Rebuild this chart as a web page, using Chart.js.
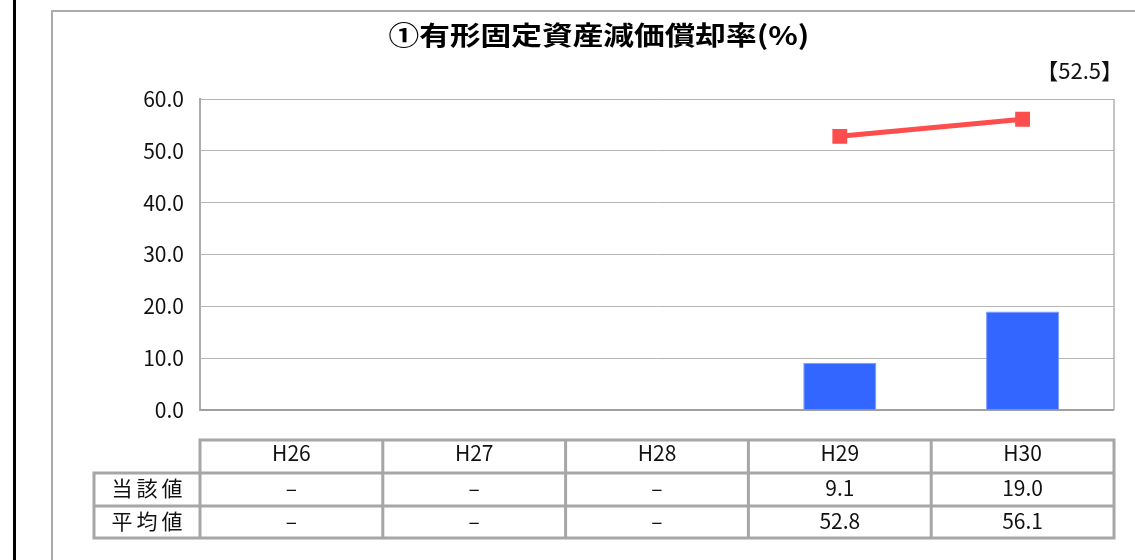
<!DOCTYPE html>
<html lang="ja">
<head>
<meta charset="utf-8">
<title>有形固定資産減価償却率</title>
<script src="https://cdn.jsdelivr.net/npm/chart.js@4.4.1/dist/chart.umd.min.js"></script>
<style>
    html, body {
        margin: 0;
        padding: 0;
        background: #fff;
        width: 1135px;
        height: 560px;
        overflow: hidden;
        font-family: "Noto Sans CJK JP", sans-serif;
        color: #111;
    }
    .barra-esq {
        position: absolute;
        left: 13px;
        top: 0;
        width: 3px;
        height: 560px;
        background: #000;
    }
    .moldura {
        position: absolute;
        left: 51px;
        top: 10px;
        width: 1200px;
        height: 700px;
        border: 2px solid #ababab;
    }
    .titulo {
        position: absolute;
        left: 599px;
        top: 33px;
        transform: translate(-50%, -50%) scaleX(1.18);
        font-size: 26px;
        font-weight: bold;
        white-space: nowrap;
        color: #000;
    }
    .referencia {
        position: absolute;
        right: 12px;
        top: 53px;
        font-size: 22px;
        color: #111;
    }
    #grafico {
        position: absolute;
        left: 0;
        top: 0;
    }
</style>
</head>
<body>
<div class="barra-esq"></div>
<div class="moldura"></div>
<canvas id="grafico" width="1135" height="560"></canvas>
<div class="titulo">①有形固定資産減価償却率(%)</div>
<div class="referencia">【52.5】</div>
<script>
    const anos = ['H26', 'H27', 'H28', 'H29', 'H30'];
    const valoresProprios = [null, null, null, 9.1, 19.0];
    const valoresMedia = [null, null, null, 52.8, 56.1];
    const rotulosLinhas = ['当該値', '平均値'];
    const eixoMin = 0;
    const eixoMax = 60;
    const eixoPasso = 10;

    const FONTE = '"Noto Sans CJK JP", sans-serif';

    function formatar(v) {
        return v === null ? '–' : v.toFixed(1);
    }

    // moldura da área de plotagem
    const molduraPlot = {
        id: 'molduraPlot',
        beforeDatasetsDraw(chart) {
            const { ctx, chartArea: a } = chart;
            ctx.save();
            ctx.strokeStyle = '#b0b0b0';
            ctx.lineWidth = 1.5;
            ctx.beginPath();
            ctx.moveTo(a.right, a.top);
            ctx.lineTo(a.right, a.bottom);
            ctx.stroke();
            ctx.strokeStyle = '#a0a0a0';
            ctx.lineWidth = 2;
            ctx.beginPath();
            ctx.moveTo(a.left, a.bottom);
            ctx.lineTo(a.right, a.bottom);
            ctx.stroke();
            ctx.restore();
        }
    };

    // tabela de dados sob o gráfico
    const tabelaDados = {
        id: 'tabelaDados',
        afterDraw(chart) {
            const { ctx, chartArea: a } = chart;
            const escalaX = chart.scales.x;
            const larguraCol = (a.right - a.left) / anos.length;
            const linhas = [440, 473, 506, 538];
            const esquerdaRotulo = 94;

            ctx.save();
            ctx.strokeStyle = '#a6a6a6';
            ctx.lineWidth = 3;
            ctx.lineCap = 'square';

            ctx.beginPath();
            ctx.moveTo(a.left, linhas[0]);
            ctx.lineTo(a.right, linhas[0]);
            for (let i = 1; i < linhas.length; i++) {
                ctx.moveTo(esquerdaRotulo, linhas[i]);
                ctx.lineTo(a.right, linhas[i]);
            }
            ctx.moveTo(esquerdaRotulo, linhas[1]);
            ctx.lineTo(esquerdaRotulo, linhas[3]);
            for (let i = 0; i <= anos.length; i++) {
                const x = a.left + larguraCol * i;
                ctx.moveTo(x, linhas[0]);
                ctx.lineTo(x, linhas[3]);
            }
            ctx.stroke();

            ctx.fillStyle = '#111';
            ctx.font = '21px ' + FONTE;
            ctx.textAlign = 'center';
            ctx.textBaseline = 'middle';

            const series = [valoresProprios, valoresMedia];
            anos.forEach(function (ano, i) {
                const cx = escalaX.getPixelForValue(i);
                ctx.fillText(ano, cx, 453);
                series.forEach(function (serie, r) {
                    ctx.fillText(formatar(serie[i]), cx, (linhas[r + 1] + linhas[r + 2]) / 2 - 1);
                });
            });

            ctx.letterSpacing = '4px';
            rotulosLinhas.forEach(function (rotulo, r) {
                ctx.fillText(rotulo, (esquerdaRotulo + a.left) / 2 + 2, (linhas[r + 1] + linhas[r + 2]) / 2 - 1);
            });
            ctx.restore();
        }
    };

    new Chart(document.getElementById('grafico'), {
        data: {
            labels: anos,
            datasets: [
                {
                    type: 'line',
                    label: '平均値',
                    data: valoresMedia,
                    borderColor: '#ff4d4d',
                    backgroundColor: '#ff4d4d',
                    borderWidth: 5,
                    pointStyle: 'rect',
                    pointRadius: 10.5,
                    pointBorderWidth: 0,
                    spanGaps: false,
                    order: 1
                },
                {
                    type: 'bar',
                    label: '当該値',
                    data: valoresProprios,
                    backgroundColor: '#3366ff',
                    borderColor: '#7b9cff',
                    borderWidth: 1,
                    categoryPercentage: 1,
                    barPercentage: 0.4,
                    order: 2
                }
            ]
        },
        options: {
            responsive: false,
            animation: false,
            layout: {
                padding: { left: 100, top: 99, right: 21, bottom: 150 }
            },
            plugins: {
                legend: { display: false },
                tooltip: { enabled: false },
                title: { display: false }
            },
            scales: {
                x: {
                    display: false,
                    offset: true
                },
                y: {
                    min: eixoMin,
                    max: eixoMax,
                    afterFit: function (escala) {
                        escala.width = 100;
                    },
                    ticks: {
                        stepSize: eixoPasso,
                        padding: 16,
                        color: '#111',
                        font: { family: FONTE, size: 21 },
                        callback: function (v) {
                            return Number(v).toFixed(1);
                        }
                    },
                    grid: {
                        color: '#b5b5b5',
                        lineWidth: 1,
                        drawTicks: false
                    },
                    border: {
                        color: '#ababab',
                        width: 2
                    }
                }
            }
        },
        plugins: [molduraPlot, tabelaDados]
    });
</script>
</body>
</html>
